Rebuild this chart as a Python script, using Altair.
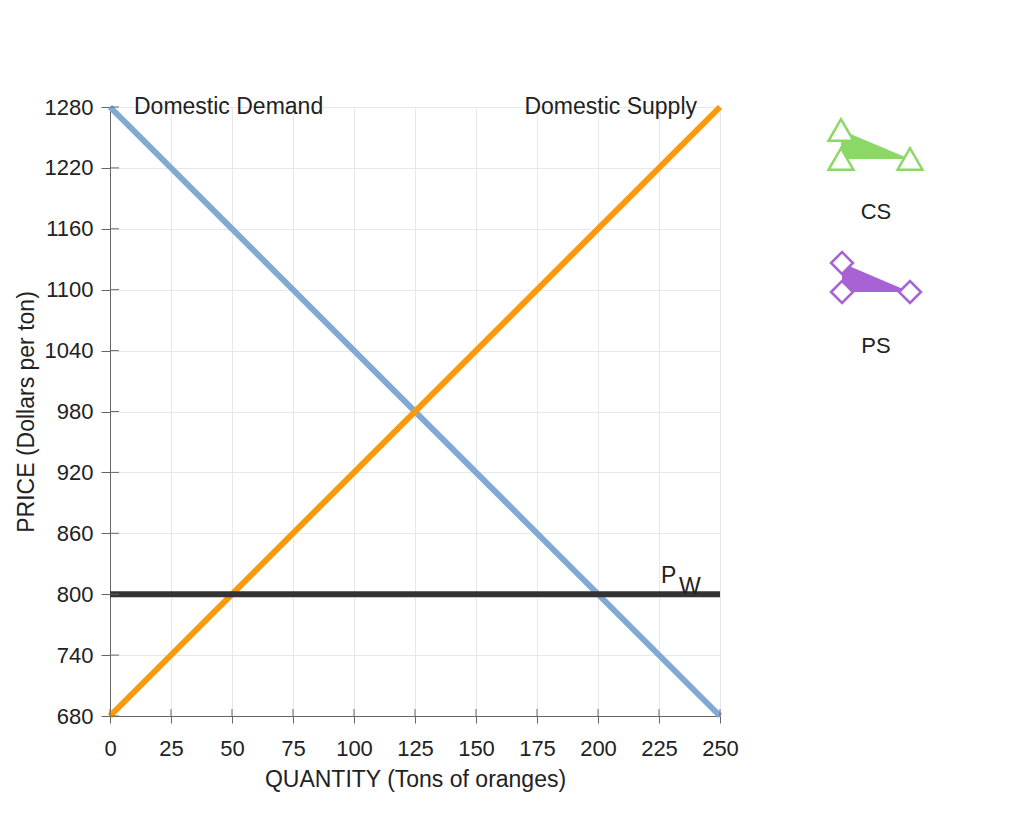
import altair as alt
import pandas as pd

# ---- data ----
x_ticks = [0, 25, 50, 75, 100, 125, 150, 175, 200, 225, 250]
y_ticks = [680, 740, 800, 860, 920, 980, 1040, 1100, 1160, 1220, 1280]
demand_q = [0, 250]
demand_p = [1280, 680]
supply_q = [0, 250]
supply_p = [680, 1280]
world_q = [0, 250]
world_p = [800, 800]

FONT = "Liberation Sans"
FS = 22
FS_T = 23
TXT = "#222222"
W, H = 610, 609

xs = alt.Scale(domain=[0, 250], nice=False, zero=False)
ys = alt.Scale(domain=[680, 1280], nice=False, zero=False)

x_axis = alt.Axis(values=x_ticks, title="QUANTITY (Tons of oranges)", tickSize=7,
                  labelPadding=15, titlePadding=9, labelFlush=False, format="d")
y_axis = alt.Axis(values=y_ticks, title="PRICE (Dollars per ton)", tickSize=9,
                  labelPadding=8, titlePadding=6, format="d")

dem = pd.DataFrame({"q": demand_q, "p": demand_p})
sup = pd.DataFrame({"q": supply_q, "p": supply_p})
wp = pd.DataFrame({"q": world_q, "p": world_p})

base_x = alt.X("q:Q", scale=xs, axis=x_axis)
base_y = alt.Y("p:Q", scale=ys, axis=y_axis)

demand = alt.Chart(dem).mark_line(color="#80aad3", strokeWidth=6).encode(x=base_x, y=base_y)
supply = alt.Chart(sup).mark_line(color="#fa9a0a", strokeWidth=6).encode(x="q:Q", y="p:Q")
world = alt.Chart(wp).mark_line(color="#333333", strokeWidth=6).encode(x="q:Q", y="p:Q")

xt = pd.DataFrame({"q": x_ticks})
yt = pd.DataFrame({"p": y_ticks})
inner_xt = alt.Chart(xt).mark_rule(color="#666666", strokeWidth=1).encode(
    x="q:Q", y=alt.value(H), y2=alt.value(H - 7))
inner_yt = alt.Chart(yt).mark_rule(color="#666666", strokeWidth=1).encode(
    y="p:Q", x=alt.value(0), x2=alt.value(9))

def label(q, p, t, align, dx, dy):
    df = pd.DataFrame({"q": [q], "p": [p], "t": [t]})
    return alt.Chart(df).mark_text(align=align, baseline="middle", dx=dx, dy=dy, fontSize=FS_T,
                                   font=FONT, color=TXT).encode(x="q:Q", y="p:Q", text="t:N")

demand_lbl = label(demand_q[0], demand_p[0], "Domestic Demand", "left", 24, 0)
supply_lbl = label(supply_q[1], supply_p[1], "Domestic Supply", "right", -23, 0)
p_lbl = label(world_q[1], world_p[1], "P", "left", -59, -18)
w_lbl = label(world_q[1], world_p[1], "W", "left", -41, -7)

main = alt.layer(demand, supply, world, inner_xt, inner_yt, demand_lbl, supply_lbl, p_lbl, w_lbl)

# ---- legend (pixel layout relative to plot origin) ----
GREEN = "#8cd867"
PURPLE = "#a862d4"
cs_pts = pd.DataFrame({"px": [731, 731, 800], "py": [23, 52, 52]})
cs_area = pd.DataFrame({"px": [731, 800], "py": [23, 52], "py2": [52, 52]})
ps_pts = pd.DataFrame({"px": [732, 732, 800], "py": [156, 185, 185]})
ps_area = pd.DataFrame({"px": [732, 800], "py": [156, 185], "py2": [185, 185]})
leg_txt = pd.DataFrame({"px": [766, 766], "py": [105, 239], "t": ["CS", "PS"]})

PX = alt.X("px:Q", scale=None, axis=None)
PY = alt.Y("py:Q", scale=None, axis=None)

cs_a = alt.Chart(cs_area).mark_area(color=GREEN, opacity=1).encode(x=PX, y=PY, y2="py2:Q")
cs_p = alt.Chart(cs_pts).mark_point(shape="triangle-up", size=620, fill="white", opacity=1,
                                    stroke=GREEN, strokeWidth=2.5, filled=False).encode(x=PX, y=PY)
ps_a = alt.Chart(ps_area).mark_area(color=PURPLE, opacity=1).encode(x=PX, y=PY, y2="py2:Q")
ps_p = alt.Chart(ps_pts).mark_point(shape="diamond", size=480, fill="white", opacity=1,
                                    stroke=PURPLE, strokeWidth=2.5, filled=False).encode(x=PX, y=PY)
leg_t = alt.Chart(leg_txt).mark_text(fontSize=FS, font=FONT, color=TXT,
                                      baseline="middle").encode(x=PX, y=PY, text="t:N")

legend = alt.layer(cs_a, cs_p, ps_a, ps_p, leg_t)

chart = alt.layer(main, legend).resolve_scale(x="independent", y="independent").properties(
    width=W, height=H,
    autosize=alt.AutoSizeParams(type="none"),
    padding={"left": 102, "top": 99, "right": 290, "bottom": 90},
).configure_axis(
    labelFont=FONT, titleFont=FONT, labelFontSize=FS, titleFontSize=FS_T,
    titleFontWeight="normal", labelColor=TXT, titleColor=TXT,
    domainColor="#666666", tickColor="#666666", gridColor="#e8e8e8", grid=True,
).configure_view(stroke=None)

chart.save("out.html", embed_options={"renderer": "svg", "actions": False})
